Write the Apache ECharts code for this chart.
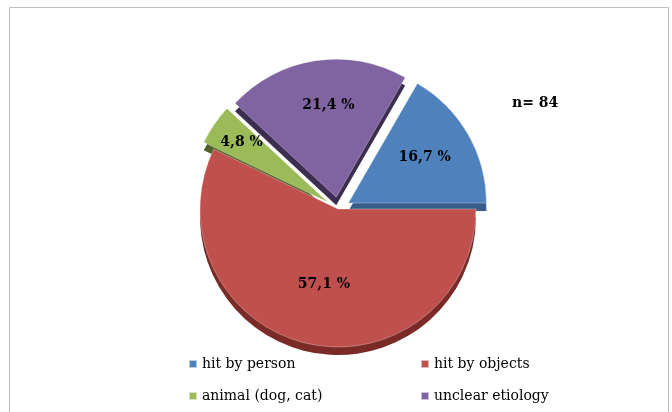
<!DOCTYPE html>
<html>
<head>
<meta charset="utf-8">
<script src="https://cdn.jsdelivr.net/npm/echarts@6/dist/echarts.min.js"></script>
<style>
  html, body { margin: 0; padding: 0; background: #fff; }
  #chart { width: 672px; height: 412px; }
</style>
</head>
<body>
<div id="chart"></div>
<script>
// data (n = 84), drawn counterclockwise from 3 o'clock
const categories = ["hit by person", "unclear etiology", "animal (dog, cat)", "hit by objects"];
const counts = [14, 18, 4, 48];
const exploded = [true, true, true, false];
const legendLeft = ["hit by person", "animal (dog, cat)"];
const legendRight = ["hit by objects", "unclear etiology"];
const sampleText = "n= 84";

const faceColors = ["#4F81BD", "#8064A2", "#9BBB59", "#C0504D"];
const sideColors = ["#385D8A", "#3C2E50", "#4F6228", "#7A2B28"];
// explosion distance per slice and nudges for the in-slice labels, like Excel's best fit
const explodeDist = [18, 11, 11, 0];
const labelNudge = [[14, -10], [3, -21], [-27, -19], [2, 5]];

const total = counts.reduce((a, b) => a + b, 0);
const pct = v => (v / total * 100).toFixed(1).replace(".", ",") + " %";

const chart = echarts.init(document.getElementById("chart"));

const makeData = colors =>
  categories.map((name, i) => ({
    name: name,
    value: counts[i],
    selected: exploded[i],
    selectedOffset: explodeDist[i],
    itemStyle: { color: colors[i] }
  }));

const legendBase = {
  orient: "vertical",
  padding: 0,
  itemWidth: 8,
  itemHeight: 8,
  itemGap: 18,
  icon: "rect",
  selectedMode: false,
  textStyle: { fontFamily: "DejaVu Serif", fontSize: 14, color: "#000" }
};

const option = {
  backgroundColor: "#fff",
  animation: false,
  graphic: [
    {
      type: "rect",
      shape: { x: 9.5, y: 7.5, width: 659, height: 430 },
      style: { fill: null, stroke: "#BDBDBD", lineWidth: 1 },
      z: -10
    },
    {
      type: "text",
      left: 512,
      top: 96,
      style: {
        text: sampleText,
        font: "bold 14px 'DejaVu Serif'",
        fill: "#000"
      }
    }
  ],
  legend: [
    Object.assign({ left: 188, top: 357, data: legendLeft }, legendBase),
    Object.assign({ left: 420, top: 357, data: legendRight }, legendBase)
  ],
  series: [
    {
      name: "face",
      type: "pie",
      center: [338, 209],
      radius: 138,
      startAngle: 0,
      clockwise: false,
      selectedMode: "multiple",
      selectedOffset: 12,
      itemStyle: { borderColor: "rgba(255,255,255,0.6)", borderWidth: 0.5 },
      label: {
        show: true,
        position: "inside",
        formatter: p => pct(p.value),
        fontFamily: "DejaVu Serif",
        fontWeight: "bold",
        fontSize: 14,
        color: "#000"
      },
      labelLine: { show: false },
      labelLayout: p => ({ dx: labelNudge[p.dataIndex][0], dy: labelNudge[p.dataIndex][1] }),
      data: makeData(faceColors),
      z: 2
    },
    {
      name: "side",
      type: "pie",
      center: [338, 217],
      radius: 138,
      startAngle: 0,
      clockwise: false,
      selectedMode: "multiple",
      selectedOffset: 12,
      silent: true,
      label: { show: false },
      labelLine: { show: false },
      data: makeData(sideColors),
      z: 1
    }
  ]
};

chart.setOption(option);
</script>
</body>
</html>
